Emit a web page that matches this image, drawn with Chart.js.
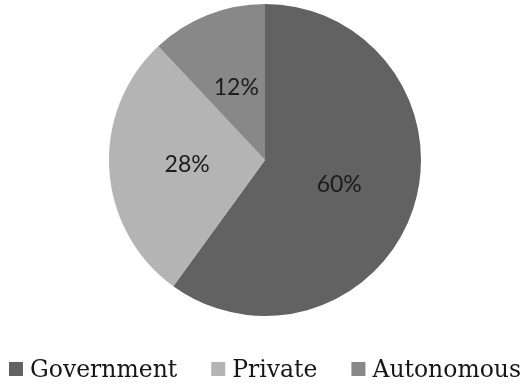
<!DOCTYPE html>
<html>
<head>
<meta charset="utf-8">
<script src="https://cdn.jsdelivr.net/npm/chart.js@4/dist/chart.umd.min.js"></script>
<style>
  html, body { margin: 0; padding: 0; background: #ffffff; }
  #wrap { width: 530px; height: 385px; }
</style>
</head>
<body>
<div id="wrap"><canvas id="c" width="530" height="385"></canvas></div>
<script>
// Share of institutions by type (percent)
const categories = ['Government', 'Private', 'Autonomous'];
const shares = [60, 28, 12];
const sliceColors = ['#626262', '#b4b4b4', '#888888'];

// Writes each slice's percentage halfway between centre and rim
const sliceLabels = {
  id: 'sliceLabels',
  afterDatasetsDraw(chart) {
    const ctx = chart.ctx;
    const meta = chart.getDatasetMeta(0);
    const values = chart.data.datasets[0].data;
    ctx.save();
    ctx.font = '23px Lato, "Open Sans", sans-serif';
    ctx.fillStyle = '#1c1c1c';
    ctx.textAlign = 'center';
    ctx.textBaseline = 'middle';
    meta.data.forEach((arc, i) => {
      const p = arc.getProps(['x', 'y', 'startAngle', 'endAngle', 'outerRadius'], true);
      const mid = (p.startAngle + p.endAngle) / 2;
      const r = p.outerRadius * 0.5;
      ctx.fillText(values[i] + '%', p.x + Math.cos(mid) * r, p.y + Math.sin(mid) * r);
    });
    ctx.restore();
  }
};

// One-row legend under the pie: square swatch, short gap, serif label
const bottomLegend = {
  id: 'bottomLegend',
  afterDraw(chart) {
    const ctx = chart.ctx;
    const labels = chart.data.labels;
    const colors = chart.data.datasets[0].backgroundColor;
    const box = 14, boxGap = 7, itemGap = 34;
    ctx.save();
    ctx.font = '23.5px "DejaVu Serif", serif';
    const widths = labels.map(t => ctx.measureText(t).width);
    const total = widths.reduce((a, w) => a + box + boxGap + w, 0) + itemGap * (labels.length - 1);
    let x = (chart.width - total) / 2;
    const baseline = 377;
    ctx.textAlign = 'left';
    ctx.textBaseline = 'alphabetic';
    labels.forEach((t, i) => {
      ctx.fillStyle = colors[i];
      ctx.fillRect(x, baseline - 15, box, box);
      ctx.fillStyle = '#161616';
      ctx.fillText(t, x + box + boxGap, baseline);
      x += box + boxGap + widths[i] + itemGap;
    });
    ctx.restore();
  }
};

new Chart(document.getElementById('c'), {
  type: 'pie',
  data: {
    labels: categories,
    datasets: [{
      data: shares,
      backgroundColor: sliceColors,
      borderWidth: 0
    }]
  },
  options: {
    responsive: false,
    animation: false,
    layout: { padding: { top: 4, bottom: 69, left: 0, right: 0 } },
    plugins: {
      tooltip: { enabled: false },
      legend: { display: false }
    }
  },
  plugins: [sliceLabels, bottomLegend]
});
</script>
</body>
</html>
